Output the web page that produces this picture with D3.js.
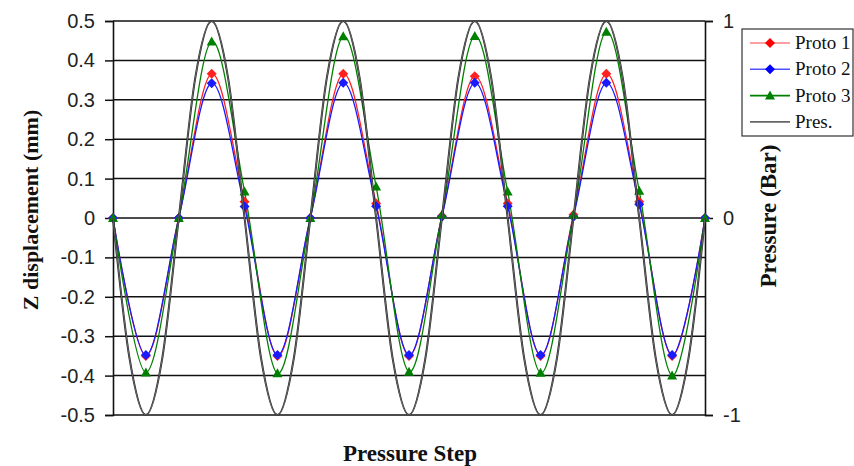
<!DOCTYPE html>
<html>
<head>
<meta charset="utf-8">
<script src="https://cdn.jsdelivr.net/npm/d3@7"></script>
<style>
  body { margin: 0; background: #fff; }
</style>
</head>
<body>
<svg id="chart"></svg>
<script>
// values
const steps  = [0, 1, 2, 3, 4, 5, 6, 7, 8, 9, 10, 11, 12, 13, 14, 15, 16, 17, 18]
const proto1 = [0, -0.35, 0, 0.366, 0.041, -0.35, 0, 0.366, 0.037, -0.35, 0.005, 0.36, 0.037, -0.35, 0.008, 0.366, 0.041, -0.35, 0]
const proto2 = [0, -0.348, 0, 0.342, 0.029, -0.348, 0, 0.343, 0.03, -0.348, 0.003, 0.343, 0.03, -0.348, 0.003, 0.343, 0.035, -0.348, 0]
const proto3 = [0, -0.392, 0, 0.448, 0.067, -0.394, 0, 0.461, 0.08, -0.39, 0.008, 0.462, 0.067, -0.393, 0.008, 0.473, 0.069, -0.4, 0]

// pressure trace, half step resolution (Bar, right axis)
const presSteps = [0, 0.5, 1, 1.5, 2, 2.5, 3, 3.5, 4, 4.5, 5, 5.5, 6, 6.5, 7, 7.5, 8, 8.5, 9,
                   9.5, 10, 10.5, 11, 11.5, 12, 12.5, 13, 13.5, 14, 14.5, 15, 15.5, 16, 16.5, 17, 17.5, 18]
const presBar   = [0, -0.71, -1, -0.71, 0, 0.71, 1, 0.71, 0, -0.71, -1, -0.71, 0, 0.71, 1, 0.71, 0, -0.71, -1,
                   -0.71, 0, 0.71, 1, 0.71, 0, -0.71, -1, -0.71, 0, 0.71, 1, 0.71, 0, -0.71, -1, -0.71, 0]

const leftTicks  = [0.5, 0.4, 0.3, 0.2, 0.1, 0, -0.1, -0.2, -0.3, -0.4, -0.5]
const rightTicks = [1, 0, -1]

const seriesNames = ["Proto 1", "Proto 2", "Proto 3", "Pres."]

const width = 854, height = 466
const margin = {top: 21, right: 149, bottom: 51, left: 113},
      bodyWidth = width - margin.left - margin.right,
      bodyHeight = height - margin.top - margin.bottom

const svg = d3.select("#chart")
              .attr("width", width)
              .attr("height", height)

const x = d3.scaleLinear().domain([0, 18]).range([margin.left, margin.left + bodyWidth])
const y = d3.scaleLinear().domain([-0.5, 0.5]).range([margin.top + bodyHeight, margin.top])
const y2 = d3.scaleLinear().domain([-1, 1]).range([margin.top + bodyHeight, margin.top])

// plain hyphen minus, like the spreadsheet labels
const plain = d => String(Math.round(d * 10) / 10)

// horizontal grid
svg.append("g")
   .selectAll("line")
   .data(leftTicks)
   .join("line")
   .attr("x1", margin.left)
   .attr("x2", margin.left + bodyWidth)
   .attr("y1", d => y(d))
   .attr("y2", d => y(d))
   .attr("stroke", "#111")
   .attr("stroke-width", 1.5)

// left axis
const leftAxis = svg.append("g")
   .attr("transform", `translate(${margin.left},0)`)
   .call(d3.axisLeft(y).tickValues(leftTicks).tickSize(8).tickPadding(10).tickFormat(plain))
leftAxis.select(".domain").attr("stroke", "#111").attr("stroke-width", 1.6)
leftAxis.selectAll(".tick line").attr("stroke", "#111").attr("stroke-width", 1.5)
leftAxis.selectAll(".tick text")
        .attr("fill", "#222")
        .style("font-family", "'Liberation Sans', Arial, sans-serif")
        .style("font-size", "20px")

// right axis
const rightAxis = svg.append("g")
   .attr("transform", `translate(${margin.left + bodyWidth},0)`)
   .call(d3.axisRight(y2).tickValues(rightTicks).tickSize(8).tickPadding(10).tickFormat(plain))
rightAxis.select(".domain").attr("stroke", "#111").attr("stroke-width", 1.6)
rightAxis.selectAll(".tick line").attr("stroke", "#111").attr("stroke-width", 1.5)
rightAxis.selectAll(".tick text")
         .attr("fill", "#222")
         .style("font-family", "'Liberation Sans', Arial, sans-serif")
         .style("font-size", "20px")

const smooth = d3.curveCatmullRom.alpha(0)

const diamond = "M0,-5L5,0L0,5L-5,0Z"
const triangle = "M0,-5L5,4L-5,4Z"

const protos = [
  {name: seriesNames[0], values: proto1, color: "#ff2020", marker: diamond},
  {name: seriesNames[1], values: proto2, color: "#1a1aff", marker: diamond},
  {name: seriesNames[2], values: proto3, color: "#008000", marker: triangle}
]

const line = d3.line()
               .x((d, i) => x(steps[i]))
               .y(d => y(d))
               .curve(smooth)

protos.forEach(s => {
  svg.append("path")
     .datum(s.values)
     .attr("fill", "none")
     .attr("stroke", s.color)
     .attr("stroke-width", 1.3)
     .attr("d", line)
})

protos.forEach(s => {
  svg.append("g")
     .selectAll("path")
     .data(s.values)
     .join("path")
     .attr("transform", (d, i) => `translate(${x(steps[i])},${y(d)})`)
     .attr("d", s.marker)
     .attr("fill", s.color)
})

// pressure on the secondary axis, drawn last
const presLine = d3.line()
                   .x((d, i) => x(presSteps[i]))
                   .y(d => y2(d))
                   .curve(smooth)

svg.append("path")
   .datum(presBar)
   .attr("fill", "none")
   .attr("stroke", "#222")
   .attr("stroke-width", 2)
   .attr("d", presLine)
svg.append("path")
   .datum(presBar)
   .attr("fill", "none")
   .attr("stroke", "#999")
   .attr("stroke-width", 0.6)
   .attr("d", presLine)

// axis titles
svg.append("text")
   .attr("transform", `translate(38,210) rotate(-90)`)
   .attr("text-anchor", "middle")
   .style("font-family", "'Liberation Serif', 'Times New Roman', serif")
   .style("font-weight", "bold")
   .style("font-size", "22px")
   .attr("fill", "#111")
   .text("Z displacement (mm)")

svg.append("text")
   .attr("transform", `translate(776,216) rotate(-90)`)
   .attr("text-anchor", "middle")
   .style("font-family", "'Liberation Serif', 'Times New Roman', serif")
   .style("font-weight", "bold")
   .style("font-size", "23px")
   .attr("fill", "#111")
   .text("Pressure (Bar)")

svg.append("text")
   .attr("x", 410)
   .attr("y", 461)
   .attr("text-anchor", "middle")
   .style("font-family", "'Liberation Serif', 'Times New Roman', serif")
   .style("font-weight", "bold")
   .style("font-size", "23px")
   .attr("fill", "#111")
   .text("Pressure Step")

// legend
const legend = svg.append("g").attr("transform", "translate(742,29)")
legend.append("rect")
      .attr("width", 111)
      .attr("height", 107)
      .attr("fill", "#fff")
      .attr("stroke", "#333")
      .attr("stroke-width", 1.2)

const legendItems = [
  {name: seriesNames[0], color: "#ff8080", mcolor: "#ff0000", marker: diamond},
  {name: seriesNames[1], color: "#5050ff", mcolor: "#0000ff", marker: diamond},
  {name: seriesNames[2], color: "#008000", mcolor: "#008000", marker: triangle},
  {name: seriesNames[3], color: "#666", mcolor: null, marker: null}
]

const item = legend.selectAll("g.item")
                   .data(legendItems)
                   .join("g")
                   .attr("class", "item")
                   .attr("transform", (d, i) => `translate(0,${14 + i * 26.3})`)

item.append("line")
    .attr("x1", 8)
    .attr("x2", 48)
    .attr("stroke", d => d.color)
    .attr("stroke-width", 1.6)

item.filter(d => d.marker)
    .append("path")
    .attr("transform", "translate(28,0)")
    .attr("d", d => d.marker)
    .attr("fill", d => d.mcolor)

item.append("text")
    .attr("x", 53)
    .attr("y", 6)
    .style("font-family", "'Liberation Serif', 'Times New Roman', serif")
    .style("font-size", "19px")
    .attr("fill", "#111")
    .text(d => d.name)
</script>
</body>
</html>
